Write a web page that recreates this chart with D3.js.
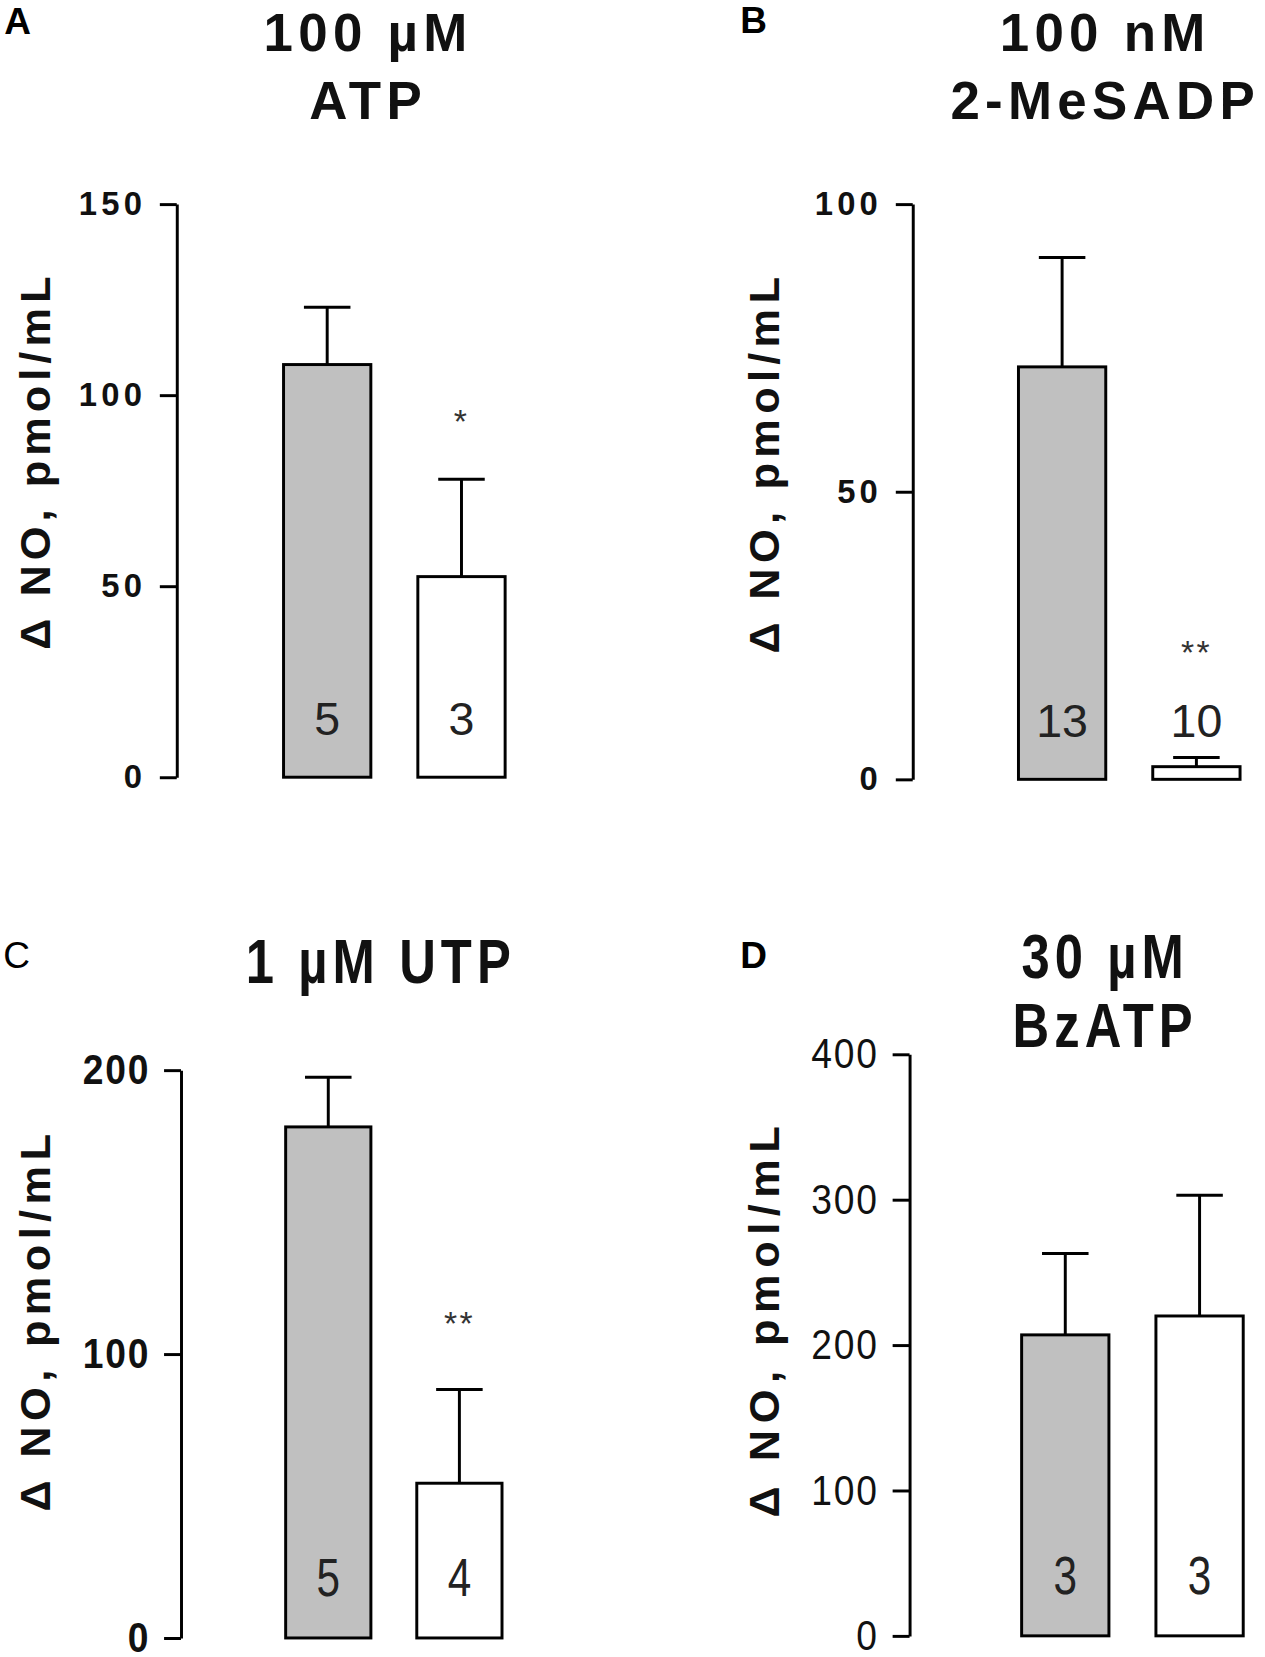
<!DOCTYPE html>
<html>
<head>
<meta charset="utf-8">
<script src="https://cdn.jsdelivr.net/npm/d3@7"></script>
<style>
  html, body { margin: 0; padding: 0; background: #fff; }
  svg { display: block; }
  .wide { font-family: "Liberation Sans", Arial, Helvetica, sans-serif; }
</style>
</head>
<body>
<svg id="chart"></svg>
<script>
// values
const panelLetters = ["A", "B", "C", "D"];
const agonistTitles = [["100 \u00B5M", "ATP"], ["100 nM", "2-MeSADP"], ["1 \u00B5M UTP"], ["30 \u00B5M", "BzATP"]];
const groups = ["control", "treated"];
const controlMean = [108, 71.7, 180, 207];
const controlSem = [15, 19, 17.5, 56];
const treatedMean = [52.5, 2.2, 54.5, 220];
const treatedSem = [25.5, 1.6, 33, 83];
const controlN = ["5", "13", "5", "3"];
const treatedN = ["3", "10", "4", "3"];
const treatedSig = ["*", "**", "**", ""];
const yMax = [150, 100, 200, 400];
const yTicks = [[0, 50, 100, 150], [0, 50, 100], [0, 100, 200], [0, 100, 200, 300, 400]];
const yLabel = "\u0394 NO, pmol/mL";

// layout of each panel (drawing units, viewBox below)
const layout = [
  {axisX: 167, y0: 735,  y1: 193,  barLeft: 268, step: 127, titleX: 348,  titleY: 48,  letterX: 4,   letterY: 32,  labelX: 33,  labelY: 438,  labelLen: 353, sigOff: 44, narrow: false},
  {axisX: 863, y0: 737,  y1: 193,  barLeft: 963, step: 127, titleX: 1045, titleY: 48,  letterX: 700, letterY: 31,  labelX: 722, labelY: 440,  labelLen: 356, sigOff: 88, narrow: false},
  {axisX: 171, y0: 1549, y1: 1012, barLeft: 270, step: 124, titleX: 360,  titleY: 930, letterX: 3,   letterY: 915, labelX: 33,  labelY: 1251, labelLen: 357, sigOff: 52, narrow: true},
  {axisX: 860, y0: 1547, y1: 997,  barLeft: 966, step: 127, titleX: 1045, titleY: 925, letterX: 700, letterY: 915, labelX: 722, labelY: 1250, labelLen: 370, sigOff: 44, narrow: true}
];
const squeeze = 0.8; // horizontal compression imitating a narrow face in C and D

const W = 1265, H = 1657;
const VW = 1196, VH = 1567;
const svg = d3.select("#chart")
  .attr("width", W).attr("height", H)
  .attr("viewBox", `0 0 ${VW} ${VH}`);

panelLetters.forEach((letter, i) => {
  const L = layout[i];
  const g = svg.append("g");
  const sx = L.narrow ? squeeze : 1;

  const y = d3.scaleLinear().domain([0, yMax[i]]).range([L.y0, L.y1]);
  const r0 = L.barLeft - 0.3 * L.step;
  const x = d3.scaleBand().domain(groups)
    .range([r0, r0 + 2.25 * L.step])
    .paddingInner(0.35).paddingOuter(0.3);

  // axis
  const tickLen = 16, pad = 13;
  const ax = g.append("g")
    .attr("transform", `translate(${L.axisX},0)`)
    .call(d3.axisLeft(y).tickValues(yTicks[i]).tickSize(tickLen).tickSizeOuter(0).tickPadding(pad));
  ax.attr("font-family", null).attr("font-size", null);
  ax.selectAll("path, line").attr("stroke", "#000").attr("stroke-width", 2.8);
  ax.selectAll("text")
    .attr("class", "wide")
    .attr("x", 0)
    .attr("transform", `translate(${-(tickLen + pad)},0) scale(${L.narrow ? 0.88 : 1},1)`)
    .attr("font-weight", i === 3 ? "normal" : "bold")
    .attr("font-size", L.narrow ? 40 : 31)
    .attr("letter-spacing", L.narrow ? 2 : 4)
    .attr("fill", "#111");

  // y label
  g.append("text")
    .attr("class", "wide")
    .attr("transform", `translate(${L.labelX},${L.labelY}) rotate(-90)`)
    .attr("text-anchor", "middle")
    .attr("dominant-baseline", "central")
    .attr("font-weight", "bold")
    .attr("font-size", 41)
    .attr("textLength", L.labelLen)
    .attr("lengthAdjust", "spacing")
    .attr("fill", "#111")
    .text(yLabel);

  // panel letter
  g.append("text")
    .attr("class", "wide")
    .attr("x", L.letterX).attr("y", L.letterY)
    .attr("font-weight", i === 2 ? "normal" : "bold")
    .attr("font-size", 35)
    .attr("fill", "#000")
    .text(letter);

  // title
  const title = g.append("text")
    .attr("class", "wide")
    .attr("transform", `translate(${L.titleX},${L.titleY}) scale(${sx},1)`)
    .attr("text-anchor", "middle")
    .attr("font-weight", "bold")
    .attr("font-size", L.narrow ? 60 : 50)
    .attr("letter-spacing", L.narrow ? 6 : 5)
    .attr("fill", "#111");
  agonistTitles[i].forEach((line, k) => {
    title.append("tspan")
      .attr("x", 0)
      .attr("y", k * 65)
      .text(line);
  });

  const rows = [
    {grp: "control", mean: controlMean[i], sem: controlSem[i], n: controlN[i], sig: "", fill: "#c0c0c0"},
    {grp: "treated", mean: treatedMean[i], sem: treatedSem[i], n: treatedN[i], sig: treatedSig[i], fill: "#ffffff"}
  ];
  const cx = d => x(d.grp) + x.bandwidth() / 2;

  // error bars (upper only)
  const capHalf = 22;
  rows.forEach(d => {
    g.append("line")
      .attr("x1", cx(d)).attr("x2", cx(d))
      .attr("y1", y(d.mean)).attr("y2", y(d.mean + d.sem))
      .attr("stroke", "#000").attr("stroke-width", 2.8);
    g.append("line")
      .attr("x1", cx(d) - capHalf).attr("x2", cx(d) + capHalf)
      .attr("y1", y(d.mean + d.sem)).attr("y2", y(d.mean + d.sem))
      .attr("stroke", "#000").attr("stroke-width", 2.8);
  });

  // bars
  g.selectAll("rect.bar").data(rows).join("rect")
    .attr("class", "bar")
    .attr("x", d => x(d.grp))
    .attr("y", d => y(d.mean))
    .attr("width", x.bandwidth())
    .attr("height", d => y(0) - y(d.mean))
    .attr("fill", d => d.fill)
    .attr("stroke", "#000")
    .attr("stroke-width", 2.8);

  // n labels
  g.selectAll("text.n").data(rows).join("text")
    .attr("class", "n wide")
    .attr("transform", d => `translate(${cx(d)},${y(0) - 40}) scale(${sx},1)`)
    .attr("text-anchor", "middle")
    .attr("font-size", L.narrow ? 50 : 44)
    .attr("fill", "#222")
    .text(d => d.n);

  // significance marks
  g.selectAll("text.sig").data(rows.filter(d => d.sig)).join("text")
    .attr("class", "sig wide")
    .attr("x", cx)
    .attr("y", d => y(d.mean + d.sem) - L.sigOff)
    .attr("text-anchor", "middle")
    .attr("font-size", 32)
    .attr("letter-spacing", 2)
    .attr("fill", "#333")
    .text(d => d.sig);
});
</script>
</body>
</html>
